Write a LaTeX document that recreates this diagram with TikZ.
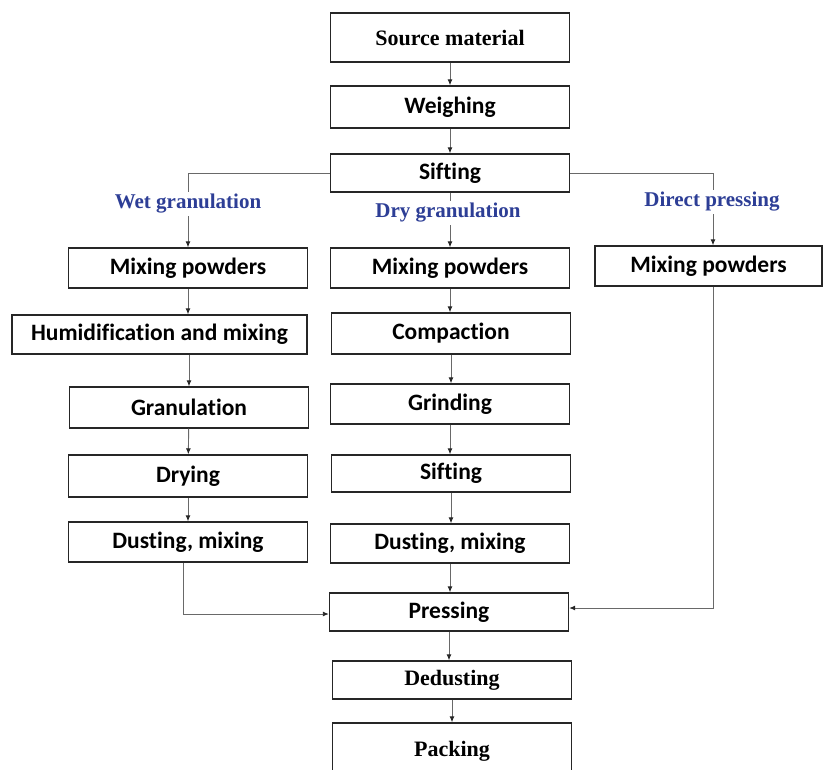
\documentclass[tikz,border=0pt]{standalone}
\usepackage{fontspec}
\setmainfont{Carlito}[Ligatures=NoCommon]
\newfontfamily\serifb{Liberation Serif}[Ligatures=NoCommon]
\usetikzlibrary{arrows.meta}
\definecolor{lbl}{RGB}{45,62,150}
\definecolor{ln}{RGB}{105,105,105}
\begin{document}
\begin{tikzpicture}[x=1pt,y=-1pt,
 box/.style={draw=black!85, line width=1.4pt, inner sep=0pt, fill=white,
   font=\fontsize{23.5}{26}\selectfont\bfseries},
 sbox/.style={box, font=\serifb\fontsize{22}{26}\selectfont\bfseries},
 lab/.style={text=lbl, fill=white, inner sep=2pt, font=\serifb\fontsize{21}{24}\selectfont\bfseries},
 conn/.style={draw=ln, line width=0.9pt, -{Latex[length=6pt,width=5pt,color=black!85]}},
 wbox/.style={box, minimum width=239pt}]
\useasboundingbox (0,0) rectangle (827,769);
\clip (0,0) rectangle (827,769);
% main column
\node[sbox, minimum width=239pt, minimum height=49pt] (src) at (450,37.5) {Source material};
\node[wbox, minimum height=42pt] (weigh) at (450,107) {Weighing};
\node[wbox, minimum height=38pt] (sift) at (450,173) {Sifting};
% wet granulation
\node[wbox, minimum height=40pt] (mixW) at (188,268) {Mixing powders};
\node[box, minimum width=295pt, minimum height=39pt] (hum) at (159.5,334.5) {Humidification and mixing};
\node[wbox, minimum height=41pt] (gran) at (189,407.5) {Granulation};
\node[wbox, minimum height=42pt] (dry) at (188,476) {Drying};
\node[wbox, minimum height=40pt] (dustW) at (188,542) {Dusting, mixing};
% dry granulation
\node[wbox, minimum height=40pt] (mixD) at (450,268) {Mixing powders};
\node[wbox, minimum height=41pt] (comp) at (451,333.5) {Compaction};
\node[wbox, minimum height=40pt] (grind) at (450,404) {Grinding};
\node[wbox, minimum height=37pt] (sift2) at (451,473.5) {Sifting};
\node[wbox, minimum height=39pt] (dustD) at (450,543.5) {Dusting, mixing};
% direct pressing
\node[box, minimum width=227pt, minimum height=40pt] (mixP) at (708.5,266) {Mixing powders};
% end column
\node[wbox, minimum height=38pt] (press) at (449,612) {Pressing};
\node[sbox, minimum width=239pt, minimum height=38pt] (dedust) at (452,680) {Dedusting};
\node[sbox, minimum width=239pt, minimum height=56pt] (pack) at (452,751) {Packing};
% connectors
\draw[conn] (src) -- (weigh);
\draw[conn] (weigh) -- (sift);
\draw[conn] (sift.west) -| (mixW.north);
\draw[conn] (sift) -- (mixD);
\draw[conn] (sift.east) -| (mixP.north -| 713,0);
\draw[conn] (mixW.south) -- (mixW.south |- hum.north);
\draw[conn] (gran.north |- hum.south) -- (gran.north);
\draw[conn] (gran) -- (dry);
\draw[conn] (dry) -- (dustW);
\draw[conn] (mixD) -- (mixD |- comp.north);
\draw[conn] (comp) -- (comp |- grind.north);
\draw[conn] (grind) -- (grind |- sift2.north);
\draw[conn] (sift2) -- (sift2 |- dustD.north);
\draw[conn] (dustD) -- (dustD |- press.north);
\draw[conn] (press) -- (press |- dedust.north);
\draw[conn] (dedust) -- (pack);
\draw[conn] (dustW.south -| 183,0) |- ([yshift=-2pt]press.west);
\draw[conn] (mixP.south -| 713,0) |- ([yshift=4pt]press.east);
% branch labels
\node[lab] (lw) at (188,204) {Wet granulation};
\node[lab] (ld) at (448,213) {Dry granulation};
\node[lab] (lp) at (712,202) {Direct pressing};
\end{tikzpicture}
\end{document}
